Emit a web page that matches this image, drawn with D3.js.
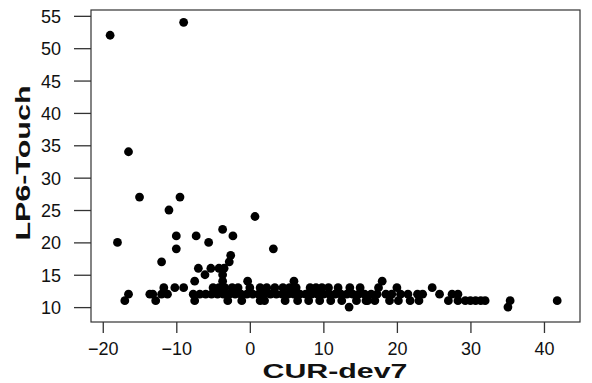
<!DOCTYPE html>
<html>
<head>
<meta charset="utf-8">
<script src="https://cdn.jsdelivr.net/npm/d3@7"></script>
<style>
  body { margin: 0; background: #fff; }
  svg text { font-family: "Liberation Sans", Arial, sans-serif; fill: #111; }
</style>
</head>
<body>
<div id="chart"></div>
<script>
// CUR-dev7 (x) vs LP6-Touch (y)
const curDev7 = [
    -19, -9, -16.5, -15, -9.5, -11, 0.7, -18, -10, -10, -12, -7.3, -3.7, -2.3, -5.6, 3.2,
    -2.6, -2.8, -7, -5.3, -4.2, -3.5, -6.1, -3.7, -7.5, -3.7, -0.3, 6, 18,
    -17, -16.5, -13.6, -13.2, -12.8, -11.7, -12, -11.2, -10.2, -9, -7.7, -7.5,
    -5, -4.2, -3.4, -2.4, -1.6, 0, 1.4, 2.3, 3.4,
    -6.8, -6, -5.2, -4.4, -3.6, -2.8, -2, -1.2, -0.4, 0.4, 1.2, 2, 2.8, 3.6,
    -3, -1.1, 1.4, 2,
    4.5, 5.4, 6.3, 8.2, 9, 9.8, 10.7, 12, 13.6, 15,
    4.4, 5.2, 6, 6.8, 7.6, 8.4, 9.2, 10, 10.8, 11.6, 12.4, 13.2, 14, 14.8, 15.6,
    4.8, 6.5, 8, 9.5, 11, 12.5, 14.5, 16,
    13.5,
    17.5, 20, 24.8,
    16.5, 17.3, 18.5, 19.3, 20.5, 21.5, 22.8, 23.5, 25.8, 27.5, 28.3,
    15.8, 17, 19, 20.2, 21.8, 23, 27, 28.3, 29.3, 30, 30.7, 31.4, 32,
    35.4, 35.1, 41.8
];
const lp6Touch = [
    52, 54, 34, 27, 27, 25, 24, 20, 21, 19, 17, 21, 22, 21, 20, 19,
    18, 17, 16, 16, 16, 16, 15, 15, 14, 14, 14, 14, 14,
    11, 12, 12, 12, 11, 13, 12, 12, 13, 13, 12, 11,
    13, 13, 13, 13, 13, 13, 13, 13, 13,
    12, 12, 12, 12, 12, 12, 12, 12, 12, 12, 12, 12, 12, 12,
    11, 11, 11, 11,
    13, 13, 13, 13, 13, 13, 13, 13, 13, 13,
    12, 12, 12, 12, 12, 12, 12, 12, 12, 12, 12, 12, 12, 12, 12,
    11, 11, 11, 11, 11, 11, 11, 11,
    10,
    13, 13, 13,
    12, 12, 12, 12, 12, 12, 12, 12, 12, 12, 12,
    11, 11, 11, 11, 11, 11, 11, 11, 11, 11, 11, 11, 11,
    11, 10, 11
];
const xTicks = [-20, -10, 0, 10, 20, 30, 40];
const yTicks = [10, 15, 20, 25, 30, 35, 40, 45, 50, 55];

const width = 592, height = 383;
const box = { left: 91, top: 10, right: 580, bottom: 322 };

const svg = d3.select('#chart').append('svg')
    .attr('width', width)
    .attr('height', height);

const x = d3.scaleLinear().domain([-21.6, 44.9]).range([box.left, box.right]);
const y = d3.scaleLinear().domain([7.7, 55.9]).range([box.bottom, box.top]);

// frame
svg.append('rect')
    .attr('x', box.left)
    .attr('y', box.top)
    .attr('width', box.right - box.left)
    .attr('height', box.bottom - box.top)
    .attr('fill', 'none')
    .attr('stroke', '#333')
    .attr('stroke-width', 1.2);

// axes
const yAxis = svg.append('g')
    .attr('transform', `translate(${box.left},0)`)
    .call(d3.axisLeft(y).tickValues(yTicks).tickSize(17).tickPadding(13));
const xAxis = svg.append('g')
    .attr('transform', `translate(0,${box.bottom})`)
    .call(d3.axisBottom(x).tickValues(xTicks).tickSize(11).tickPadding(9));

[xAxis, yAxis].forEach(g => {
    g.select('.domain').remove();
    g.selectAll('.tick line').attr('stroke', '#333').attr('stroke-width', 1.3);
    g.selectAll('.tick text')
        .style('font-family', '"Liberation Sans", Arial, sans-serif')
        .style('font-size', '18px')
        .attr('fill', '#111');
});
yAxis.selectAll('.tick text').attr('dy', '0.36em');

// points
const points = curDev7.map((d, i) => ({ x: d, y: lp6Touch[i] }));
svg.append('g')
    .selectAll('circle')
    .data(points)
    .enter().append('circle')
    .attr('cx', d => x(d.x))
    .attr('cy', d => y(d.y))
    .attr('r', 4.4)
    .attr('fill', '#000');

// axis titles
svg.append('text')
    .attr('x', 335)
    .attr('y', 378)
    .attr('text-anchor', 'middle')
    .attr('textLength', 145)
    .attr('lengthAdjust', 'spacingAndGlyphs')
    .style('font-size', '20px')
    .style('font-weight', 'bold')
    .text('CUR-dev7');

svg.append('text')
    .attr('transform', 'translate(30,163) rotate(-90)')
    .attr('text-anchor', 'middle')
    .attr('textLength', 155)
    .attr('lengthAdjust', 'spacingAndGlyphs')
    .style('font-size', '21px')
    .style('font-weight', 'bold')
    .text('LP6-Touch');
</script>
</body>
</html>
